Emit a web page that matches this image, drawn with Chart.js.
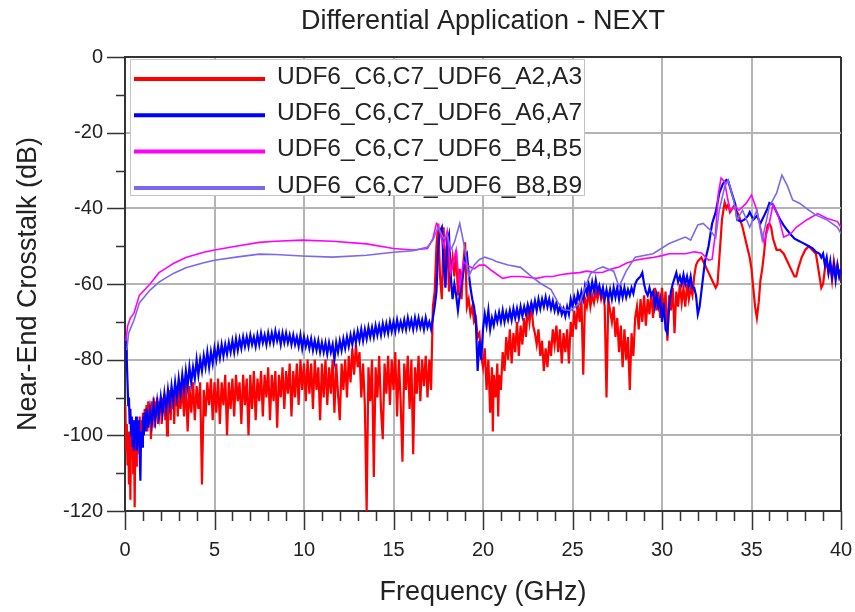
<!DOCTYPE html>
<html>
<head>
<meta charset="utf-8">
<title>Differential Application - NEXT</title>
<script src="https://cdn.jsdelivr.net/npm/chart.js@4"></script>
<style>
  body { margin: 0; background: #fff; }
  #wrap { width: 855px; height: 612px; }
</style>
</head>
<body>
<div id="wrap"><canvas id="nextChart" width="855" height="612"></canvas></div>
<script>
// titles and series names
var chartTitle = 'Differential Application - NEXT';
var xTitle = 'Frequency (GHz)';
var yTitle = 'Near-End Crosstalk (dB)';
var seriesNames = ['UDF6_C6,C7_UDF6_A2,A3', 'UDF6_C6,C7_UDF6_A6,A7', 'UDF6_C6,C7_UDF6_B4,B5', 'UDF6_C6,C7_UDF6_B8,B9'];
var seriesColors = ['#ff0000', '#0000ff', '#ff00ff', '#7b68ee'];

// axis ticks
var xTicks = [0, 5, 10, 15, 20, 25, 30, 35, 40];
var yTicks = [-120, -100, -80, -60, -40, -20, 0];

// [GHz, dB]
var redPts = [
  [0.02,-92],[0.06,-104],[0.1,-97],[0.14,-108],[0.18,-99],[0.22,-113],[0.26,-100],[0.3,-117],[0.34,-98],[0.38,-106],
  [0.42,-96],[0.46,-110],[0.5,-97],[0.54,-119],[0.58,-99],[0.62,-108],[0.66,-96],[0.7,-105],[0.74,-97],[0.78,-103],
  [0.82,-95],[0.86,-104],[0.9,-96],[0.95,-102],[1.0,-94],[1.05,-100],[1.1,-93],[1.15,-98],[1.2,-92],[1.25,-99],
  [1.3,-91],[1.35,-97],[1.4,-92],[1.45,-101],[1.5,-91],[1.55,-96],[1.6,-90],[1.65,-98],[1.7,-91],[1.75,-95],
  [1.8,-90],[1.85,-97],[1.9,-91],[1.95,-94],[2.0,-90],[2.05,-97],[2.1,-90],[2.15,-94],[2.2,-89],[2.25,-96],
  [2.3,-90],[2.35,-100],[2.4,-89],[2.45,-94],[2.5,-88],[2.55,-96],[2.6,-89],[2.65,-93],[2.7,-88],[2.75,-97],
  [2.8,-88],[2.85,-92],[2.9,-87],[2.95,-95],[3.0,-87],[3.1,-93],[3.2,-87],[3.3,-95],[3.4,-86],[3.5,-99],
  [3.6,-87],[3.7,-94],[3.8,-86],[3.9,-96],[4.0,-87],[4.1,-93],[4.2,-86],[4.3,-113],[4.4,-88],[4.5,-95],
  [4.6,-86],[4.7,-92],[4.8,-85],[4.9,-96],[5.0,-86],[5.1,-94],[5.2,-85],[5.3,-97],[5.4,-86],[5.5,-92],
  [5.6,-84],[5.7,-100],[5.8,-86],[5.9,-93],[6.0,-85],[6.1,-95],[6.2,-84],[6.3,-91],[6.4,-86],[6.5,-97],
  [6.6,-84],[6.7,-92],[6.8,-85],[6.9,-100],[7.0,-84],[7.1,-93],[7.2,-83],[7.3,-96],[7.4,-85],[7.5,-91],
  [7.6,-83],[7.7,-95],[7.8,-84],[7.9,-90],[8.0,-82],[8.1,-96],[8.2,-84],[8.3,-91],[8.4,-83],[8.5,-98],
  [8.6,-84],[8.7,-90],[8.8,-82],[8.9,-93],[9.0,-83],[9.1,-89],[9.2,-81],[9.3,-95],[9.4,-83],[9.5,-90],
  [9.6,-81],[9.7,-92],[9.8,-80],[9.9,-88],[10.0,-81],[10.1,-91],[10.2,-80],[10.3,-89],[10.4,-81],[10.5,-93],
  [10.6,-80],[10.7,-88],[10.8,-82],[10.9,-96],[11.0,-81],[11.1,-90],[11.2,-80],[11.3,-92],[11.4,-82],[11.5,-89],
  [11.6,-80],[11.7,-94],[11.8,-81],[11.9,-89],[12.0,-96],[12.1,-81],[12.2,-88],[12.3,-80],[12.4,-90],[12.5,-79],
  [12.6,-86],[12.7,-77],[12.8,-84],[12.9,-76],[13.0,-82],[13.1,-78],[13.2,-90],[13.3,-81],[13.4,-92],[13.5,-120],
  [13.6,-82],[13.7,-91],[13.8,-80],[13.9,-111],[14.0,-82],[14.1,-90],[14.2,-79],[14.3,-93],[14.4,-101],[14.5,-81],
  [14.6,-89],[14.7,-79],[14.8,-92],[14.9,-80],[15.0,-88],[15.1,-78],[15.2,-95],[15.3,-80],[15.4,-91],[15.5,-107],
  [15.6,-81],[15.7,-88],[15.8,-79],[15.9,-93],[16.0,-80],[16.1,-105],[16.2,-82],[16.3,-89],[16.4,-79],[16.5,-91],
  [16.6,-80],[16.7,-87],[16.8,-79],[16.9,-90],[17.0,-80],[17.1,-88],[17.2,-66],[17.3,-62],[17.4,-50],[17.5,-44],
  [17.6,-58],[17.7,-64],[17.8,-45],[17.9,-60],[18.0,-47],[18.1,-62],[18.2,-57],[18.3,-53],[18.4,-58],[18.5,-51],
  [18.6,-63],[18.7,-56],[18.8,-64],[18.9,-55],[19.0,-49],[19.1,-66],[19.2,-64],[19.3,-68],[19.4,-66],[19.5,-70],
  [19.6,-69],[19.7,-74],[19.8,-73],[19.9,-79],[20.0,-82],[20.1,-77],[20.2,-88],[20.3,-80],[20.4,-94],[20.5,-82],
  [20.55,-99],[20.6,-84],[20.7,-90],[20.8,-81],[20.85,-95],[20.9,-84],[21.0,-88],[21.1,-78],[21.2,-83],[21.3,-74],
  [21.4,-80],[21.5,-72],[21.6,-81],[21.7,-73],[21.8,-78],[21.9,-70],[22.0,-79],[22.1,-71],[22.2,-76],[22.3,-69],
  [22.4,-74],[22.5,-66],[22.6,-70],[22.7,-65],[22.8,-71],[22.9,-73],[23.0,-76],[23.1,-72],[23.2,-79],[23.3,-75],
  [23.4,-83],[23.5,-77],[23.6,-82],[23.7,-75],[23.8,-79],[23.9,-72],[24.0,-76],[24.1,-71],[24.2,-78],[24.3,-72],
  [24.4,-81],[24.5,-73],[24.6,-78],[24.7,-72],[24.8,-81],[24.9,-70],[25.0,-74],[25.1,-67],[25.2,-72],[25.3,-65],
  [25.4,-70],[25.5,-64],[25.6,-84],[25.7,-64],[25.8,-66],[25.9,-62],[26.0,-66],[26.1,-63],[26.2,-65],[26.3,-62],
  [26.4,-64],[26.5,-61],[26.6,-64],[26.7,-62],[26.8,-66],[26.9,-90],[27.0,-64],[27.1,-67],[27.2,-70],[27.3,-66],
  [27.4,-74],[27.5,-69],[27.6,-78],[27.7,-71],[27.8,-82],[27.9,-72],[28.0,-80],[28.1,-74],[28.2,-88],[28.3,-73],
  [28.4,-79],[28.5,-69],[28.6,-66],[28.7,-72],[28.8,-64],[28.9,-70],[29.0,-63],[29.1,-71],[29.2,-64],[29.3,-68],
  [29.4,-62],[29.5,-69],[29.6,-61],[29.7,-67],[29.8,-62],[29.9,-69],[30.0,-61],[30.1,-68],[30.2,-62],[30.3,-75],
  [30.4,-63],[30.5,-67],[30.6,-61],[30.7,-73],[30.8,-62],[30.9,-66],[31.0,-60],[31.1,-65],[31.2,-61],[31.3,-66],
  [31.4,-60],[31.5,-64],[31.6,-61],[31.7,-63],[31.8,-58],[31.9,-55],[32.0,-54],[32.2,-53],[32.4,-55],[32.6,-57],
  [32.8,-59],[33.0,-61],[33.1,-60],[33.25,-50],[33.35,-43],[33.5,-38.5],[33.6,-40],[33.7,-39],[33.8,-41],[34.0,-39.5],
  [34.2,-41],[34.3,-42],[34.5,-45],[34.7,-49],[34.9,-53],[35.0,-56],[35.1,-61],[35.2,-66],[35.3,-69],[35.4,-65],
  [35.5,-59],[35.6,-56],[35.7,-52],[35.8,-47],[35.9,-44.5],[36.0,-44],[36.1,-45],[36.2,-48],[36.4,-51],[36.6,-51],
  [36.8,-52],[37.0,-54],[37.2,-56],[37.4,-58],[37.5,-58],[37.6,-56],[37.8,-53],[38.0,-51],[38.2,-50],[38.4,-51],
  [38.6,-52],[38.7,-55],[38.8,-58],[38.9,-61],[39.0,-60],[39.1,-56],[39.2,-54],[39.3,-57],[39.4,-55],[39.5,-59],
  [39.6,-54],[39.7,-57],[39.8,-55],[39.9,-58],[40.0,-56]
];

var bluePts = [
  [0.02,-74],[0.06,-76],[0.1,-80],[0.14,-86],[0.18,-92],[0.22,-90],[0.26,-97],[0.3,-93],[0.34,-100],[0.38,-95],
  [0.42,-103],[0.46,-96],[0.5,-104],[0.54,-97],[0.58,-101],[0.62,-95],[0.66,-104],[0.7,-98],[0.74,-102],[0.78,-96],
  [0.82,-105],[0.86,-112],[0.9,-99],[0.95,-103],[1.0,-95],[1.05,-100],[1.1,-94],[1.15,-99],[1.2,-93],[1.3,-98],
  [1.4,-93],[1.5,-97],[1.6,-92],[1.7,-96],[1.8,-91],[1.9,-95],[2.0,-90],[2.1,-94],[2.2,-89],[2.3,-93],
  [2.4,-88],[2.5,-92],[2.6,-87],[2.7,-91],[2.8,-86],[2.9,-90],[3.0,-85],[3.1,-89],[3.2,-84],[3.3,-88],
  [3.4,-83],[3.5,-87],[3.6,-82],[3.7,-86],[3.8,-82],[3.9,-85],[4.0,-80],[4.1,-84],[4.2,-80],[4.3,-83],
  [4.4,-79],[4.5,-82],[4.6,-78],[4.7,-82],[4.8,-78],[4.9,-81],[5.0,-77],[5.1,-80],[5.2,-76.5],[5.3,-79.5],
  [5.4,-76],[5.5,-79],[5.6,-76],[5.7,-78.5],[5.8,-75.5],[5.9,-78],[6.0,-75],[6.1,-78],[6.2,-74.5],[6.3,-77.5],
  [6.4,-74.5],[6.5,-77],[6.6,-74],[6.7,-76.5],[6.8,-74],[6.9,-76.5],[7.0,-73.5],[7.1,-76],[7.2,-74],[7.3,-76.5],
  [7.4,-73.5],[7.5,-76],[7.6,-73],[7.7,-75.5],[7.8,-73.5],[7.9,-76],[8.0,-73],[8.1,-75.5],[8.2,-73],[8.3,-75.5],
  [8.4,-72.5],[8.5,-75],[8.6,-73],[8.7,-76],[8.8,-73],[8.9,-75.5],[9.0,-73],[9.1,-75.5],[9.2,-73.5],[9.3,-76],
  [9.4,-73.5],[9.5,-76],[9.6,-74],[9.7,-76.5],[9.8,-73.5],[9.9,-77],[10.0,-74],[10.1,-76.5],[10.2,-74.5],[10.3,-77],
  [10.4,-74.5],[10.5,-77.5],[10.6,-75],[10.7,-77.5],[10.8,-75],[10.9,-78],[11.0,-75.5],[11.1,-78],[11.2,-75.5],[11.3,-78.5],
  [11.4,-75.5],[11.5,-78],[11.6,-76],[11.7,-80],[11.8,-75.5],[11.9,-78],[12.0,-75],[12.1,-77.5],[12.2,-74.5],[12.3,-77],
  [12.4,-74],[12.5,-76.5],[12.6,-73.5],[12.7,-76],[12.8,-73],[12.9,-75.5],[13.0,-72.5],[13.1,-75],[13.2,-72],[13.3,-75],
  [13.4,-72],[13.5,-74.5],[13.6,-71.5],[13.7,-74],[13.8,-71.5],[13.9,-74],[14.0,-71],[14.1,-73.5],[14.2,-71],[14.3,-73.5],
  [14.4,-70.5],[14.5,-73],[14.6,-70.5],[14.7,-73],[14.8,-70],[14.9,-72.5],[15.0,-70],[15.1,-72.5],[15.2,-69.5],[15.3,-72],
  [15.4,-70],[15.5,-72],[15.6,-69.5],[15.7,-72],[15.8,-69],[15.9,-71.5],[16.0,-69.5],[16.1,-72],[16.2,-69],[16.3,-71.5],
  [16.4,-69],[16.5,-71.5],[16.6,-69.5],[16.7,-72],[16.8,-69],[16.9,-71.5],[17.0,-70],[17.1,-72],[17.2,-69],[17.3,-66],
  [17.4,-62],[17.5,-50],[17.6,-46],[17.7,-45],[17.8,-55],[17.9,-61],[18.0,-49],[18.1,-47],[18.2,-58],[18.3,-64],
  [18.4,-60],[18.5,-63],[18.6,-67],[18.7,-63],[18.8,-60],[18.9,-57],[19.0,-53],[19.1,-52],[19.2,-57],[19.3,-61],
  [19.4,-64],[19.5,-66],[19.6,-70],[19.7,-83],[19.8,-75],[19.9,-80],[20.0,-72],[20.1,-68],[20.2,-71],[20.3,-67],
  [20.4,-72],[20.5,-69],[20.6,-71],[20.7,-68],[20.8,-70],[20.9,-67.5],[21.0,-70],[21.1,-67],[21.2,-70],[21.3,-67.5],
  [21.4,-69.5],[21.5,-67],[21.6,-69.5],[21.7,-66.5],[21.8,-69],[21.9,-66.5],[22.0,-69],[22.1,-66],[22.2,-68.5],[22.3,-66],
  [22.4,-68],[22.5,-65.5],[22.6,-67.5],[22.7,-65],[22.8,-67],[22.9,-64.5],[23.0,-67],[23.1,-64],[23.2,-66.5],[23.3,-64],
  [23.4,-66],[23.5,-63.5],[23.6,-66],[23.7,-64],[23.8,-66.5],[23.9,-64.5],[24.0,-67],[24.1,-65],[24.2,-67.5],[24.3,-66],
  [24.4,-68],[24.5,-66.5],[24.6,-68.5],[24.7,-66],[24.8,-68],[24.9,-64],[25.0,-66],[25.1,-63.5],[25.2,-65.5],[25.3,-62.5],
  [25.4,-64.5],[25.5,-62],[25.6,-64],[25.7,-60.5],[25.8,-62.5],[25.9,-60],[26.0,-62.5],[26.1,-59.5],[26.2,-62],[26.3,-59],
  [26.4,-62],[26.5,-60.5],[26.6,-63],[26.7,-61],[26.8,-64],[26.9,-61.5],[27.0,-64],[27.1,-61.5],[27.2,-64],[27.3,-61],
  [27.4,-63.5],[27.5,-61],[27.6,-64],[27.7,-61],[27.8,-63.5],[27.9,-61],[28.0,-63.5],[28.1,-61.5],[28.2,-63],[28.3,-61],
  [28.4,-62.5],[28.5,-60],[28.6,-59],[28.7,-58.5],[28.8,-58],[28.9,-57],[29.0,-60],[29.1,-62],[29.2,-63],[29.3,-61],
  [29.4,-63],[29.5,-62],[29.6,-66],[29.7,-63],[29.8,-66],[29.9,-64],[30.0,-70],[30.1,-65],[30.2,-72],[30.3,-73],
  [30.4,-66],[30.5,-62],[30.6,-60],[30.7,-58.5],[30.8,-57],[30.9,-59.5],[31.0,-58],[31.1,-60],[31.2,-57.5],[31.3,-60],
  [31.4,-58],[31.5,-60.5],[31.6,-58],[31.7,-61],[31.8,-61],[31.9,-63],[32.0,-68],[32.1,-66],[32.2,-62],[32.4,-54],
  [32.6,-50],[32.8,-44],[33.0,-41],[33.2,-36],[33.4,-33.5],[33.6,-32.5],[33.7,-32.8],[33.9,-36],[34.1,-39],[34.2,-43],
  [34.4,-43.5],[34.6,-43],[34.8,-42],[34.9,-41],[35.1,-43],[35.3,-42],[35.5,-44],[35.7,-42],[35.9,-40],[36.0,-38.6],
  [36.2,-39],[36.4,-41],[36.6,-43],[36.8,-44.5],[37.0,-45.8],[37.2,-47],[37.4,-48],[37.6,-48.5],[37.8,-49],[38.0,-49.5],
  [38.2,-50],[38.4,-50.5],[38.6,-51.5],[38.8,-52],[38.9,-53],[39.0,-52],[39.1,-55],[39.2,-53],[39.3,-57],[39.4,-54],
  [39.5,-58],[39.6,-55],[39.7,-59],[39.8,-55],[39.9,-58],[40.0,-56]
];

var magentaPts = [
  [0.05,-75],[0.15,-71],[0.3,-69],[0.5,-67.7],[0.8,-63],[1.1,-61.5],[1.4,-60],[1.9,-57],[2.3,-55.8],[2.7,-54.6],
  [3.4,-53],[4.4,-51.6],[5,-51],[6.2,-50],[7.5,-49],[8.4,-48.7],[9.9,-48.4],[11.6,-48.7],[13.5,-49.4],[15,-50.6],
  [16.1,-51],[16.9,-50.6],[17.2,-48],[17.4,-44],[17.5,-44.5],[17.8,-50],[18.0,-46],[18.2,-57],[18.5,-51],[18.7,-61],
  [18.9,-54],[19.1,-55],[19.3,-55.5],[19.5,-56],[19.8,-55],[20.1,-55],[20.5,-56.5],[21.1,-58.5],[21.6,-58],[22.1,-58],
  [22.6,-58.3],[23,-58.5],[23.5,-58],[23.9,-58],[24.4,-57.5],[24.9,-57.2],[25.4,-57],[25.8,-56.6],[26.3,-57],[26.7,-56.9],
  [27.2,-56],[27.6,-55.5],[28,-54.5],[28.5,-53.7],[29,-53.3],[29.5,-53],[30,-52.5],[30.4,-52],[30.9,-52],[31.3,-52],
  [31.8,-51.5],[32.2,-51.8],[32.6,-53.7],[32.8,-53.5],[33.0,-46],[33.15,-36],[33.3,-32],[33.5,-33],[33.65,-37],[33.8,-40.5],
  [34.1,-39.5],[34.3,-40.5],[34.7,-38.7],[35.0,-36.5],[35.3,-40.5],[35.5,-45],[35.7,-49],[35.95,-45],[36.2,-39],[36.5,-42],
  [36.8,-47.6],[37.2,-46.7],[37.5,-45],[38.1,-43],[38.7,-41.4],[39.2,-42.6],[39.8,-43.5],[40,-45]
];

var purplePts = [
  [0.1,-77.5],[0.2,-73],[0.5,-69.6],[0.8,-65],[1.4,-61.6],[1.9,-59.5],[2.7,-57.2],[3.4,-55.7],[4.4,-54.4],[5,-53.7],
  [6.2,-52.9],[7.5,-52.1],[8.4,-52.2],[9.9,-52.6],[11.6,-52.9],[13.5,-52.4],[15,-51.6],[16.1,-51.2],[16.9,-50.2],[17.2,-48.4],
  [17.5,-45],[17.8,-48],[18.0,-47],[18.2,-51],[18.4,-49],[18.7,-44],[19.0,-51],[19.2,-58],[19.5,-55],[19.8,-53.5],
  [20.1,-52.9],[20.5,-53.5],[20.7,-54],[21.4,-55],[22.1,-55.6],[22.7,-58],[23.2,-59.8],[23.8,-61.5],[24.2,-65],[24.5,-66.8],
  [24.9,-67],[25.4,-65],[25.7,-61],[26,-57.3],[26.4,-56],[26.7,-55.5],[27.3,-56.6],[27.6,-60.7],[28,-56.6],[28.5,-52.9],
  [29.5,-52],[30.4,-49.3],[31.3,-47.6],[31.6,-48.4],[32,-44.4],[32.3,-44],[32.7,-45.8],[33.0,-47.8],[33.2,-40.5],[33.5,-34.3],
  [33.7,-32.5],[34.0,-37.8],[34.2,-43],[34.5,-40.5],[34.9,-45],[35.3,-40.5],[35.6,-48.4],[36.0,-39.5],[36.4,-36],[36.7,-31.2],
  [37.0,-34],[37.3,-37.8],[37.7,-38.7],[38.2,-40.5],[38.6,-41.8],[39.2,-43],[39.8,-45],[40,-46.7]
];

var fontFamily = '"Liberation Sans", Arial, sans-serif';
var textColor = '#222';
var gridColor = '#b4b4b4';
var frameColor = '#333';

function toXY(pts) {
  return pts.map(function(p) { return { x: p[0], y: p[1] }; });
}

// main title over the plot area
var titlePlugin = {
  id: 'plotTitle',
  afterDraw: function(chart) {
    var ctx = chart.ctx;
    var area = chart.chartArea;
    ctx.save();
    ctx.font = '27px ' + fontFamily;
    ctx.fillStyle = textColor;
    ctx.textAlign = 'center';
    ctx.textBaseline = 'alphabetic';
    ctx.fillText(chartTitle, (area.left + area.right) / 2, 29);
    ctx.restore();
  }
};

// long ticks on every 5 GHz / 20 dB, short ones in between
var tickMarks = {
  id: 'tickMarks',
  afterDraw: function(chart) {
    var ctx = chart.ctx;
    var xs = chart.scales.x;
    var ys = chart.scales.y;
    var area = chart.chartArea;
    ctx.save();
    ctx.strokeStyle = frameColor;
    ctx.lineWidth = 1.5;
    ctx.beginPath();
    xs.ticks.forEach(function(t) {
      var px = Math.round(xs.getPixelForValue(t.value)) + 0.5;
      var len = (t.value % 5 === 0) ? 19 : 10;
      ctx.moveTo(px, area.bottom);
      ctx.lineTo(px, area.bottom + len);
    });
    ys.ticks.forEach(function(t) {
      var py = Math.round(ys.getPixelForValue(t.value)) + 0.5;
      var len = (t.value % 20 === 0) ? 18 : 9;
      ctx.moveTo(area.left, py);
      ctx.lineTo(area.left - len, py);
    });
    ctx.stroke();
    ctx.restore();
  }
};

// boxed legend inside the top-left corner of the plot
var innerLegend = {
  id: 'innerLegend',
  afterDatasetsDraw: function(chart) {
    var ctx = chart.ctx;
    var area = chart.chartArea;
    var left = area.left + 5;
    var top = area.top + 2;
    ctx.save();
    ctx.fillStyle = '#fff';
    ctx.fillRect(left, top, 455, 137);
    ctx.strokeStyle = '#c4c4c4';
    ctx.lineWidth = 1;
    ctx.strokeRect(left + 0.5, top + 0.5, 454, 136);
    ctx.font = '24.5px ' + fontFamily;
    ctx.textAlign = 'left';
    ctx.textBaseline = 'alphabetic';
    seriesNames.forEach(function(name, i) {
      var y = top + 20 + i * 36.3;
      ctx.strokeStyle = seriesColors[i];
      ctx.lineWidth = 4;
      ctx.beginPath();
      ctx.moveTo(left + 4, y);
      ctx.lineTo(left + 135, y);
      ctx.stroke();
      ctx.fillStyle = textColor;
      ctx.fillText(name, left + 147, y + 4.6);
    });
    ctx.restore();
  }
};

var allPts = [redPts, bluePts, magentaPts, purplePts];
var datasets = allPts.map(function(pts, i) {
  return {
    label: seriesNames[i],
    data: toXY(pts),
    borderColor: seriesColors[i],
    backgroundColor: seriesColors[i],
    borderWidth: i < 2 ? 2.2 : 1.6,
    pointRadius: 0,
    tension: 0,
    order: 4 - i
  };
});

var ctx = document.getElementById('nextChart').getContext('2d');
var chart = new Chart(ctx, {
  type: 'line',
  data: { datasets: datasets },
  options: {
    responsive: false,
    animation: false,
    devicePixelRatio: 1,
    layout: { padding: { top: 57, right: 14, left: 0, bottom: 0 } },
    plugins: {
      legend: { display: false },
      title: { display: false },
      tooltip: { enabled: false }
    },
    scales: {
      x: {
        type: 'linear',
        min: 0,
        max: 40,
        border: { display: true, color: frameColor, width: 2 },
        grid: {
          drawTicks: true,
          tickLength: 27,
          tickColor: 'rgba(0,0,0,0)',
          lineWidth: 2,
          color: function(c) {
            var v = c.tick.value;
            if (v === 40) return frameColor;
            return (v % 5 === 0 && v !== 0) ? gridColor : 'rgba(0,0,0,0)';
          }
        },
        ticks: {
          stepSize: 1,
          autoSkip: false,
          maxRotation: 0,
          padding: 0,
          color: textColor,
          font: { family: fontFamily, size: 20 },
          callback: function(v) { return xTicks.indexOf(v) >= 0 ? String(v) : ''; }
        },
        title: {
          display: true,
          text: xTitle,
          color: textColor,
          font: { family: fontFamily, size: 27 },
          padding: { top: 0, bottom: 3 }
        },
        afterFit: function(scale) { scale.height = 101; }
      },
      y: {
        type: 'linear',
        min: -120,
        max: 0,
        border: { display: true, color: frameColor, width: 2 },
        grid: {
          drawTicks: true,
          tickLength: 22,
          tickColor: 'rgba(0,0,0,0)',
          lineWidth: 2,
          color: function(c) {
            var v = c.tick.value;
            if (v === 0) return frameColor;
            return (v % 20 === 0 && v !== -120) ? gridColor : 'rgba(0,0,0,0)';
          }
        },
        ticks: {
          stepSize: 10,
          autoSkip: false,
          padding: 0,
          color: textColor,
          font: { family: fontFamily, size: 20 },
          callback: function(v) { return yTicks.indexOf(v) >= 0 ? String(v) : ''; }
        },
        title: {
          display: true,
          text: yTitle,
          color: textColor,
          font: { family: fontFamily, size: 27 },
          padding: { top: 12, bottom: 0 }
        },
        afterFit: function(scale) { scale.width = 125; }
      }
    }
  },
  plugins: [titlePlugin, tickMarks, innerLegend]
});
</script>
</body>
</html>
